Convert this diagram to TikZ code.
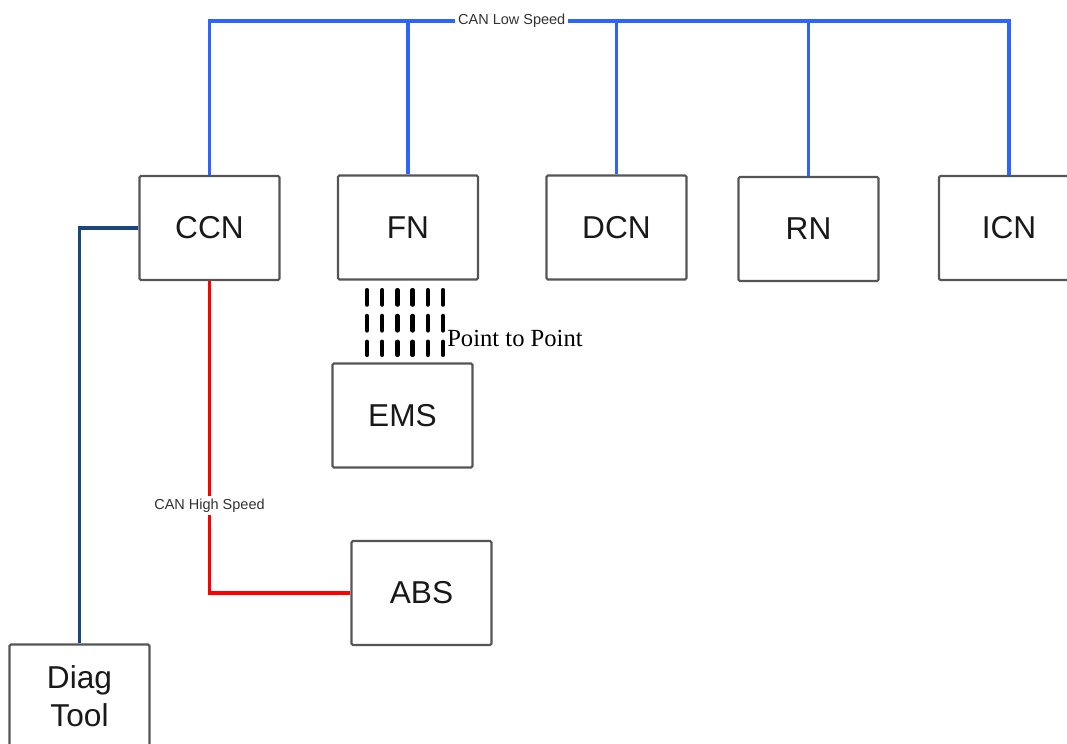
\documentclass[tikz,border=0pt]{standalone}
\usepackage{fontspec}
\setmainfont{Liberation Sans}
\newfontfamily\ptpfont{Liberation Serif}
\usepackage{xcolor}
\usepackage{tikz}
\usetikzlibrary{positioning,calc}

\definecolor{lowblue}{RGB}{45,100,255}
\definecolor{highred}{RGB}{255,0,0}
\definecolor{diagblue}{RGB}{25,70,125}
\definecolor{boxgray}{RGB}{85,85,85}
\definecolor{lblgray}{RGB}{50,50,50}

\begin{document}
\begin{tikzpicture}[
  x=0.025cm, y=-0.025cm,
  ecu/.style={draw=boxgray, line width=1.5pt, rectangle, rounded corners=1pt, minimum width=3.5cm, minimum height=2.6cm, inner sep=0pt, align=center, text=black!90, font=\fontsize{22.5}{27}\selectfont},
  lowcan/.style={draw=lowblue, line width=2.5pt},
  highcan/.style={draw=highred, line width=2.3pt},
  diagln/.style={draw=diagblue, line width=2.2pt},
  p2p/.style={line width=3.2pt, line cap=round, dash pattern=on 0.36cm off 0.285cm, shorten <=0.24cm, shorten >=0.19cm},
  lbl/.style={font=\fontsize{10.3}{12}\selectfont, text=lblgray, fill=white, inner sep=2pt}
]
\useasboundingbox (0,0) rectangle (1067,744);

% nodes on the low speed bus
\node[ecu] (ccn) at (209.5,228) {CCN};
\node[ecu] (fn) at (408,227.5) {FN};
\node[ecu] (dcn) at (616.5,227.5) {DCN};
\node[ecu] (rn) at (808.5,229) {RN};
\node[ecu] (icn) at (1009,228) {ICN};

% other nodes
\node[ecu] (ems) at (402.5,415.5) {EMS};
\node[ecu] (abs) at (421.5,593) {ABS};
\node[ecu] (diag) at (79.5,696.5) {Diag\\Tool};

% CAN low speed
\coordinate (bus) at (0,21);
\draw[lowcan] (ccn.north) -- (ccn.north |- bus) -- node[lbl, pos=0.378] {CAN Low Speed} (icn.north |- bus) -- (icn.north);
\foreach \n in {fn,dcn,rn}
  \draw[lowcan] (\n.north) -- (\n.north |- bus);

% CAN high speed
\draw[highcan] (ccn.south) |- node[lbl, pos=0.36] {CAN High Speed} (abs.west);

% diagnostic link
\draw[diagln] (ccn.west) -| (diag.north);

% point to point
\foreach \dx in {-1.025,-0.645,-0.265,0.115,0.495,0.875}
  \draw[p2p] ([xshift=\dx cm]fn.south) -- ([xshift=\dx cm]fn.south |- ems.north);
\node[anchor=west, inner sep=0pt, font=\ptpfont\fontsize{17.5}{20}\selectfont] (ptp) at (447,338) {Point to Point};

\end{tikzpicture}
\end{document}
